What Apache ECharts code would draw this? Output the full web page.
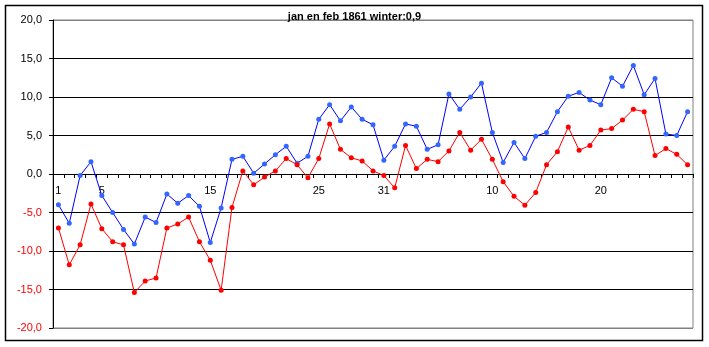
<!DOCTYPE html>
<html>
<head>
<meta charset="utf-8">
<script src="https://cdn.jsdelivr.net/npm/echarts@6/dist/echarts.min.js"></script>
<style>html,body{margin:0;padding:0;background:#fff}#c{width:709px;height:347px}</style>
</head>
<body>
<div id="c"></div>
<script>
var titleText = 'jan en feb 1861 winter:0,9';
var days = ['1','2','3','4','5','6','7','8','9','10','11','12','13','14','15','16','17','18','19','20','21','22','23','24','25','26','27','28','29','30','31',
            '1','2','3','4','5','6','7','8','9','10','11','12','13','14','15','16','17','18','19','20','21','22','23','24','25','26','27','28'];
var shownLabelIdx = [0, 4, 14, 24, 30, 40, 50];
var blueSeries = [-4.0,-6.4,-0.2,1.6,-2.8,-5.0,-7.2,-9.1,-5.6,-6.3,-2.6,-3.8,-2.8,-4.2,-8.9,-4.4,1.9,2.3,0.1,1.3,2.5,3.6,1.4,2.3,7.1,9.0,6.9,8.7,7.1,6.4,1.8,
                  3.6,6.5,6.2,3.2,3.8,10.4,8.4,10.0,11.8,5.4,1.5,4.1,2.0,4.9,5.4,8.1,10.1,10.6,9.6,9.0,12.5,11.4,14.1,10.3,12.4,5.2,5.0,8.1];
var redSeries = [-7.0,-11.8,-9.2,-3.9,-7.1,-8.8,-9.2,-15.4,-13.9,-13.5,-7.0,-6.5,-5.6,-8.8,-11.2,-15.1,-4.35,0.4,-1.4,-0.4,0.4,2.0,1.2,-0.5,2.0,6.5,3.2,2.1,1.7,0.4,-0.2,
                 -1.8,3.7,0.7,1.9,1.6,3.0,5.4,3.1,4.5,1.9,-1.0,-2.9,-4.05,-2.4,1.2,2.9,6.1,3.1,3.7,5.7,5.9,7.0,8.4,8.1,2.4,3.3,2.55,1.2];
var yMin = -20, yMax = 20, yStep = 5;

var W = 709, H = 347, GT = 20, GB = 19;
var plotH = H - GT - GB;
var zeroOffset = -plotH * (0 - yMin) / (yMax - yMin);

var chart = echarts.init(document.getElementById('c'), null, {renderer: 'canvas'});
var FONT = 'Liberation Sans, Arial, sans-serif';
function fmt(v) { return v.toFixed(1).replace('.', ','); }
chart.setOption({
  animation: false,
  backgroundColor: '#ffffff',
  title: {
    text: titleText, left: 'center', top: 6,
    textStyle: {fontFamily: FONT, fontSize: 11, fontWeight: 'bold', color: '#000'}
  },
  graphic: [{
    type: 'rect', silent: true, z: -1,
    shape: {x: 5.5, y: 5.5, width: 697, height: 335},
    style: {fill: null, stroke: '#000', lineWidth: 1.5}
  }],
  grid: {left: 53, right: 16, top: GT, bottom: GB, show: true, borderColor: '#808080', borderWidth: 1, containLabel: false},
  xAxis: {
    type: 'category', data: days, boundaryGap: true, position: 'bottom', offset: zeroOffset,
    axisLine: {onZero: false, lineStyle: {color: '#000', width: 1}},
    axisTick: {show: true, inside: false, length: 4, lineStyle: {color: '#000'}, interval: 0},
    axisLabel: {
      fontFamily: FONT, fontSize: 11, color: '#000', margin: 11,
      interval: function (idx) { return shownLabelIdx.indexOf(idx) >= 0; }
    },
    splitLine: {show: false}
  },
  yAxis: [{
    type: 'value', min: yMin, max: yMax, interval: yStep, position: 'left',
    axisLine: {show: true, lineStyle: {color: '#000', width: 1}},
    axisTick: {show: true, length: 4, lineStyle: {color: '#000'}},
    axisLabel: {
      fontFamily: FONT, fontSize: 11, margin: 11, color: '#000000',
      formatter: function (v) { return v < 0 ? '' : fmt(v); }
    },
    splitLine: {show: true, lineStyle: {color: ['#808080','#000','#000','#000','#000','#000','#000','#000','#808080'], width: 1}}
  }, {
    type: 'value', min: yMin, max: yMax, interval: yStep, position: 'left', offset: 0.01,
    axisLine: {show: false},
    axisTick: {show: false},
    axisLabel: {
      fontFamily: FONT, fontSize: 11, margin: 11, color: '#ff0000',
      formatter: function (v) { return v < 0 ? fmt(v) : ''; }
    },
    splitLine: {show: false}
  }],
  series: [
    {type: 'line', data: blueSeries, yAxisIndex: 0, symbol: 'circle', symbolSize: 5, showAllSymbol: true,
     lineStyle: {color: '#0000ff', width: 1}, itemStyle: {color: '#3366ff'}},
    {type: 'line', data: redSeries, yAxisIndex: 0, symbol: 'circle', symbolSize: 5, showAllSymbol: true,
     lineStyle: {color: '#ff0000', width: 1}, itemStyle: {color: '#ff0000'}}
  ]
});
</script>
</body>
</html>
